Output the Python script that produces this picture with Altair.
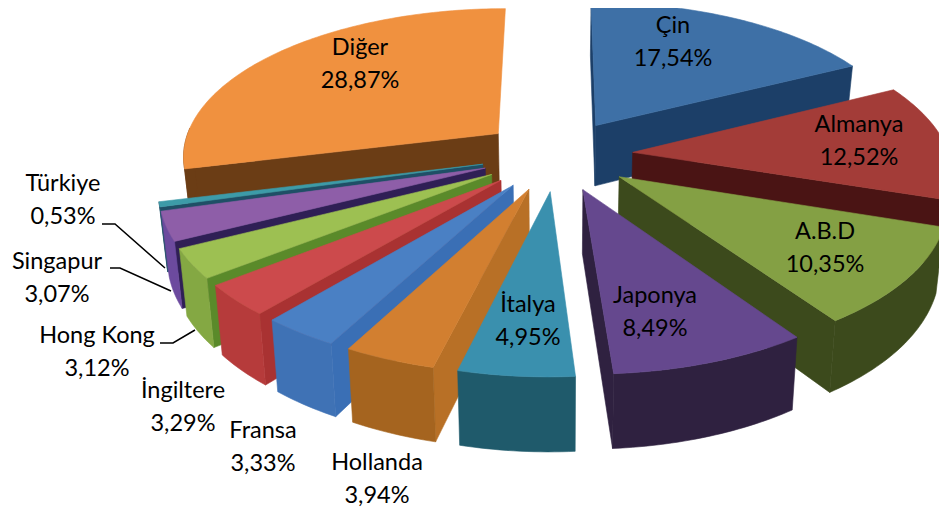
import math
import altair as alt

# ---- data ----
names = ["Çin", "Almanya", "A.B.D", "Japonya", "İtalya", "Hollanda", "Fransa",
         "İngiltere", "Hong Kong", "Singapur", "Türkiye", "Diğer"]
shares = [17.54, 12.52, 10.35, 8.49, 4.95, 3.94, 3.33, 3.29, 3.12, 3.07, 0.53, 28.87]

# ---- styles: top face, outer wall, cut face ----
top_colors = ["#3E70A6", "#A33C38", "#84A044", "#65488E", "#3A90AE", "#D27F30",
              "#4A80C4", "#CC4A4C", "#9DC052", "#8E5EA8", "#3D9BA8", "#F0913F"]
wall_colors = ["#1C3F68", "#4A1414", "#3C4A1C", "#2F2140", "#1F5A6B", "#A5641F",
               "#3F72B5", "#B63B3B", "#84A843", "#6C4A9E", "#1F4F66", "#6B3D15"]
cut_colors = ["#1C3F68", "#4A1414", "#3C4A1C", "#2F2140", "#1F5A6B", "#B87026",
              "#3A6FB5", "#A93232", "#5A8A2A", "#2F1F55", "#1F4F66", "#6B3D15"]

# ---- layout: pie camera, drawing order, annotation anchors (page pixels) ----
CX, CY, SX, SY, PERSP, DEPTH, SHRINK, EXPLODE = 557, 155, 317, 148, 0.14, 62, 0.98, 0.24
draw_order = [11, 10, 9, 8, 7, 6, 5, 0, 1, 2, 3, 4]
label_xy = [(673, 26), (859, 125), (825, 232), (655, 296), (528, 305), (377, 463),
            (263, 431), (183, 391), (97, 336), (57, 262), (63, 184), (360, 48)]
leaders = [[(102, 224), (115, 224), (165, 268)],
           [(110, 268), (120, 268), (171, 291)],
           [(160, 343), (173, 343), (195, 330)]]


def project(X, Y, low=False):
    den = 1 + PERSP * Y
    x = CX + SX * X / den
    y = CY - SY * Y / den
    if low:
        x = CX + (x - CX) * SHRINK
        y = y + DEPTH / den
    return [round(x, 2), round(y, 2)]


def polygon(ring, color, name):
    return {"type": "Feature", "properties": {"color": color, "name": name},
            "geometry": {"type": "Polygon", "coordinates": [ring + [ring[0]]]}}


def area(ring):
    return sum(ring[i][0] * ring[(i + 1) % len(ring)][1] - ring[(i + 1) % len(ring)][0] * ring[i][1]
               for i in range(len(ring)))


spans, acc = [], 0.0
for s in shares:
    spans.append((acc * 3.6, (acc + s) * 3.6))
    acc += s

shapes = []
for i in draw_order:
    a0, a1 = spans[i]
    mid = math.radians((a0 + a1) / 2)
    ox, oy = EXPLODE * math.sin(mid), EXPLODE * math.cos(mid)
    n = max(2, int(a1 - a0))
    angs = [math.radians(a0 + (a1 - a0) * k / n) for k in range(n + 1)]
    rim = [(ox + math.sin(t), oy + math.cos(t)) for t in angs]
    top_arc = [project(*p) for p in rim]
    low_arc = [project(*p, low=True) for p in rim]
    apex_t, apex_l = project(ox, oy), project(ox, oy, low=True)
    # the two cut faces, only when they turn towards the viewer
    start = [apex_t, top_arc[0], low_arc[0], apex_l]
    if area(start) < 0:
        shapes.append(polygon(start, cut_colors[i], names[i]))
    end = [apex_t, top_arc[-1], low_arc[-1], apex_l]
    if area(end) > 0 and math.cos(angs[-1]) < 0.9:
        shapes.append(polygon(end, cut_colors[i], names[i]))
    # outer wall: only the part of the rim that faces the viewer
    front = [k for k, t in enumerate(angs) if math.cos(t) < 0.05]
    if len(front) > 1:
        shapes.append(polygon([top_arc[k] for k in front] + [low_arc[k] for k in front[::-1]],
                              wall_colors[i], names[i]))
    # top face
    shapes.append(polygon([apex_t] + top_arc, top_colors[i], names[i]))

leader_rows = [{"type": "Feature", "properties": {},
                "geometry": {"type": "LineString", "coordinates": [list(p) for p in l]}}
               for l in leaders]

label_rows = [{"text": n + "\n" + f"{s:.2f}".replace(".", ",") + "%", "lon": p[0], "lat": p[1]}
              for n, s, p in zip(names, shares, label_xy)]

pie = alt.Chart(alt.Data(values=shapes)).mark_geoshape(strokeWidth=0.6).encode(
    fill=alt.Fill("properties.color:N", scale=None),
    stroke=alt.Stroke("properties.color:N", scale=None),
)
lines = alt.Chart(alt.Data(values=leader_rows)).mark_geoshape(
    filled=False, stroke="#000000", strokeWidth=1.5
)
labels = alt.Chart(alt.Data(values=label_rows)).mark_text(
    font="Lato", fontSize=23.5, color="#000000", lineBreak="\n", lineHeight=32.5,
    align="center", baseline="middle"
).encode(
    longitude="lon:Q", latitude="lat:Q", text="text:N"
)

chart = alt.layer(pie, lines, labels).project(
    type="identity", scale=1, translate=[-8, -8]
).properties(
    width=931, height=499, padding=0, autosize=alt.AutoSizeParams(type="none"),
    background="#ffffff"
).configure_view(stroke=None)

chart.save("out.html", embed_options={"renderer": "svg", "actions": False})
